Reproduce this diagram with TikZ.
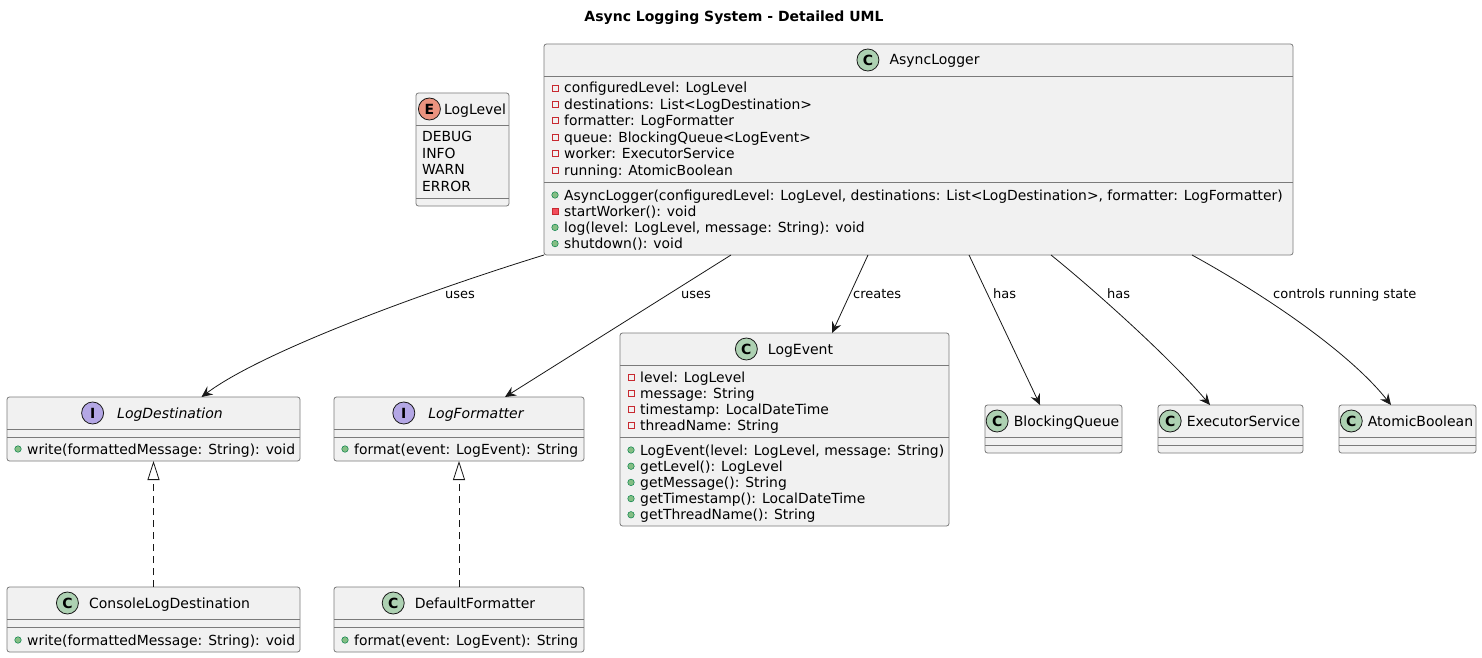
\documentclass[tikz,border=0pt]{standalone}
\usepackage{fontspec}
\setmainfont{DejaVu Sans}
\usetikzlibrary{arrows.meta,positioning}

\definecolor{boxfill}{HTML}{F1F1F1}
\definecolor{boxline}{HTML}{7A7A7A}
\definecolor{arrowline}{HTML}{181818}
\definecolor{spotC}{HTML}{ADD1B2}
\definecolor{spotE}{HTML}{EB937F}
\definecolor{spotI}{HTML}{B4A7E5}
\definecolor{privred}{HTML}{C82930}
\definecolor{privfill}{HTML}{F24D5C}
\definecolor{pubfill}{HTML}{84BE84}
\definecolor{publine}{HTML}{038048}

\tikzset{
    classbox/.style={draw=boxline, fill=boxfill, line width=0.8pt, rounded corners=2.5pt,
        anchor=north west, inner sep=0pt, outer sep=0pt},
    spot/.style={circle, draw=arrowline, line width=0.8pt, minimum size=22pt, inner sep=0pt,
        font=\fontsize{14}{14}\selectfont\bfseries},
    classname/.style={inner sep=0pt, text height=13pt, text depth=3pt, font=\fontsize{14}{16}\selectfont},
    member/.style={anchor=west, inner sep=0pt, text height=13pt, text depth=3pt, font=\fontsize{13.9}{16}\selectfont},
    privfield/.style={rectangle, draw=privred, line width=0.7pt, minimum size=6pt, inner sep=0pt},
    privmethod/.style={rectangle, draw=privred, fill=privfill, line width=0.7pt, minimum size=6pt, inner sep=0pt},
    pubmethod/.style={circle, draw=publine, fill=pubfill, line width=0.5pt, minimum size=6.5pt, inner sep=0pt},
    sep/.style={draw=boxline, line width=0.8pt},
    link/.style={draw=arrowline, line width=0.8pt, -{Stealth[length=11pt,width=10pt,inset=4pt]}},
    realize/.style={draw=arrowline, line width=0.8pt, dash pattern=on 7pt off 5pt,
        -{Triangle[length=19pt,width=12pt,fill=white]}},
    linklabel/.style={anchor=west, inner sep=0pt, text height=13pt, text depth=3pt, font=\fontsize{13}{15}\selectfont}
}

\begin{document}
\begin{tikzpicture}[x=1pt,y=-1pt]
    \useasboundingbox[fill=white] (0,0) rectangle (1482,658);

    % title
    \node[font=\fontsize{14}{16}\selectfont\bfseries] (title) at (734,18) {Async Logging System - Detailed UML};

    % draw the class boxes
    \node[classbox, minimum width=93pt, minimum height=113pt] (level) at (416,93) {};
    \node[classbox, minimum width=749pt, minimum height=211pt] (logger) at (544,44) {};
    \node[classbox, minimum width=293pt, minimum height=64pt] (dest) at (7,397) {};
    \node[classbox, minimum width=250pt, minimum height=64pt] (fmt) at (334,397) {};
    \node[classbox, minimum width=329pt, minimum height=193pt] (event) at (620,333) {};
    \node[classbox, minimum width=137pt, minimum height=48pt] (queue) at (985,405) {};
    \node[classbox, minimum width=145pt, minimum height=48pt] (executor) at (1158,405) {};
    \node[classbox, minimum width=137pt, minimum height=48pt] (atomic) at (1339,405) {};
    \node[classbox, minimum width=293pt, minimum height=65pt] (console) at (7,587) {};
    \node[classbox, minimum width=250pt, minimum height=65pt] (deffmt) at (334,587) {};

    % separators between the compartments
    \draw[sep] (416,125) -- (509,125) (416,198) -- (509,198);
    \draw[sep] (544,76) -- (1293,76) (544,182) -- (1293,182);
    \draw[sep] (7,429) -- (300,429) (7,437) -- (300,437);
    \draw[sep] (334,429) -- (584,429) (334,437) -- (584,437);
    \draw[sep] (620,365) -- (949,365) (620,437) -- (949,437);
    \draw[sep] (985,437) -- (1122,437) (985,445) -- (1122,445);
    \draw[sep] (1158,437) -- (1303,437) (1158,445) -- (1303,445);
    \draw[sep] (1339,437) -- (1476,437) (1339,445) -- (1476,445);
    \draw[sep] (7,619) -- (300,619) (7,627) -- (300,627);
    \draw[sep] (334,619) -- (584,619) (334,627) -- (584,627);

    % headers: spot and name, centred together
    \node[classname] (levelName) at (475,109) {LogLevel};
    \node[spot, fill=spotE, left=3pt of levelName] (levelSpot) {E};
    \node[classname] (loggerName) at (934.5,60) {AsyncLogger};
    \node[spot, fill=spotC, left=10pt of loggerName] (loggerSpot) {C};
    \node[classname, font=\fontsize{14}{16}\selectfont\itshape] (destName) at (170,413) {LogDestination};
    \node[spot, fill=spotI, left=13pt of destName] (destSpot) {I};
    \node[classname, font=\fontsize{14}{16}\selectfont\itshape] (fmtName) at (476,413) {LogFormatter};
    \node[spot, fill=spotI, left=13pt of fmtName] (fmtSpot) {I};
    \node[classname] (eventName) at (800.5,349) {LogEvent};
    \node[spot, fill=spotC, left=10pt of eventName] (eventSpot) {C};
    \node[classname] (queueName) at (1066.5,421) {BlockingQueue};
    \node[spot, fill=spotC, left=5pt of queueName] (queueSpot) {C};
    \node[classname] (executorName) at (1243.5,421) {ExecutorService};
    \node[spot, fill=spotC, left=5pt of executorName] (executorSpot) {C};
    \node[classname] (atomicName) at (1420.5,421) {AtomicBoolean};
    \node[spot, fill=spotC, left=5pt of atomicName] (atomicSpot) {C};
    \node[classname] (consoleName) at (169.5,603) {ConsoleLogDestination};
    \node[spot, fill=spotC, left=10pt of consoleName] (consoleSpot) {C};
    \node[classname] (deffmtName) at (475,603) {DefaultFormatter};
    \node[spot, fill=spotC, left=10pt of deffmtName] (deffmtSpot) {C};

    % enum values
    \foreach \t [count=\i from 0] in {DEBUG,INFO,WARN,ERROR}
        \node[member] (levelV\i) at (422,{137+16.4*\i}) {\t};

    % AsyncLogger fields and methods
    \foreach \t [count=\i from 0] in {
        {configuredLevel: LogLevel},
        {destinations: List<LogDestination>},
        {formatter: LogFormatter},
        {queue: BlockingQueue<LogEvent>},
        {worker: ExecutorService},
        {running: AtomicBoolean}} {
            \node[privfield] (loggerFI\i) at (555,{88+16.4*\i}) {};
            \node[member] (loggerF\i) at (564,{88+16.4*\i}) {\t};
    }
    \foreach \t [count=\i from 0] in {
        {AsyncLogger(configuredLevel: LogLevel, destinations: List<LogDestination>, formatter: LogFormatter)},
        {startWorker(): void},
        {log(level: LogLevel, message: String): void},
        {shutdown(): void}} {
            \ifnum\i=1
                \node[privmethod] (loggerMI\i) at (555,{195+16.2*\i}) {};
            \else
                \node[pubmethod] (loggerMI\i) at (555,{195+16.2*\i}) {};
            \fi
            \node[member] (loggerM\i) at (564,{195+16.2*\i}) {\t};
    }

    % LogEvent fields and methods
    \foreach \t [count=\i from 0] in {
        {level: LogLevel},
        {message: String},
        {timestamp: LocalDateTime},
        {threadName: String}} {
            \node[privfield] (eventFI\i) at (631,{377+16.1*\i}) {};
            \node[member] (eventF\i) at (640,{377+16.1*\i}) {\t};
    }
    \foreach \t [count=\i from 0] in {
        {LogEvent(level: LogLevel, message: String)},
        {getLevel(): LogLevel},
        {getMessage(): String},
        {getTimestamp(): LocalDateTime},
        {getThreadName(): String}} {
            \node[pubmethod] (eventMI\i) at (631,{450+16.2*\i}) {};
            \node[member] (eventM\i) at (640,{450+16.2*\i}) {\t};
    }

    % interface and implementation methods
    \foreach \n/\x/\y/\t in {
        dest/7/449/{write(formattedMessage: String): void},
        fmt/334/449/{format(event: LogEvent): String},
        console/7/640/{write(formattedMessage: String): void},
        deffmt/334/640/{format(event: LogEvent): String}} {
            \node[pubmethod] (\n MI) at ({\x+11},\y) {};
            \node[member] (\n M) at ({\x+20},\y) {\t};
    }

    % associations from AsyncLogger
    \draw[link] (logger.south west) .. controls +(-123,38) and +(60,-45) .. ([xshift=48pt]dest.north);
    \draw[link] ([xshift=187pt]logger.south west) -- ([xshift=46pt]fmt.north);
    \draw[link] ([xshift=324pt]logger.south west) -- ([xshift=47.5pt]event.north);
    \draw[link] ([xshift=425pt]logger.south west) -- ([xshift=-13.5pt]queue.north);
    \draw[link] ([xshift=507pt]logger.south west) .. controls +(47,38) and +(-39,-46) .. ([xshift=-20.5pt]executor.north);
    \draw[link] ([xshift=648pt]logger.south west) .. controls +(87,48) and +(-37,-47) .. ([xshift=-16.5pt]atomic.north);

    % labels on the associations
    \node[linklabel] (usesDest) at (445,293) {uses};
    \node[linklabel] (usesFmt) at (681,293) {uses};
    \node[linklabel] (creates) at (853,293) {creates};
    \node[linklabel] (hasQueue) at (993,293) {has};
    \node[linklabel] (hasWorker) at (1107,293) {has};
    \node[linklabel] (controls) at (1273,293) {controls running state};

    % realizations
    \draw[realize] (console.north) -- (dest.south);
    \draw[realize] (deffmt.north) -- (fmt.south);
\end{tikzpicture}
\end{document}
